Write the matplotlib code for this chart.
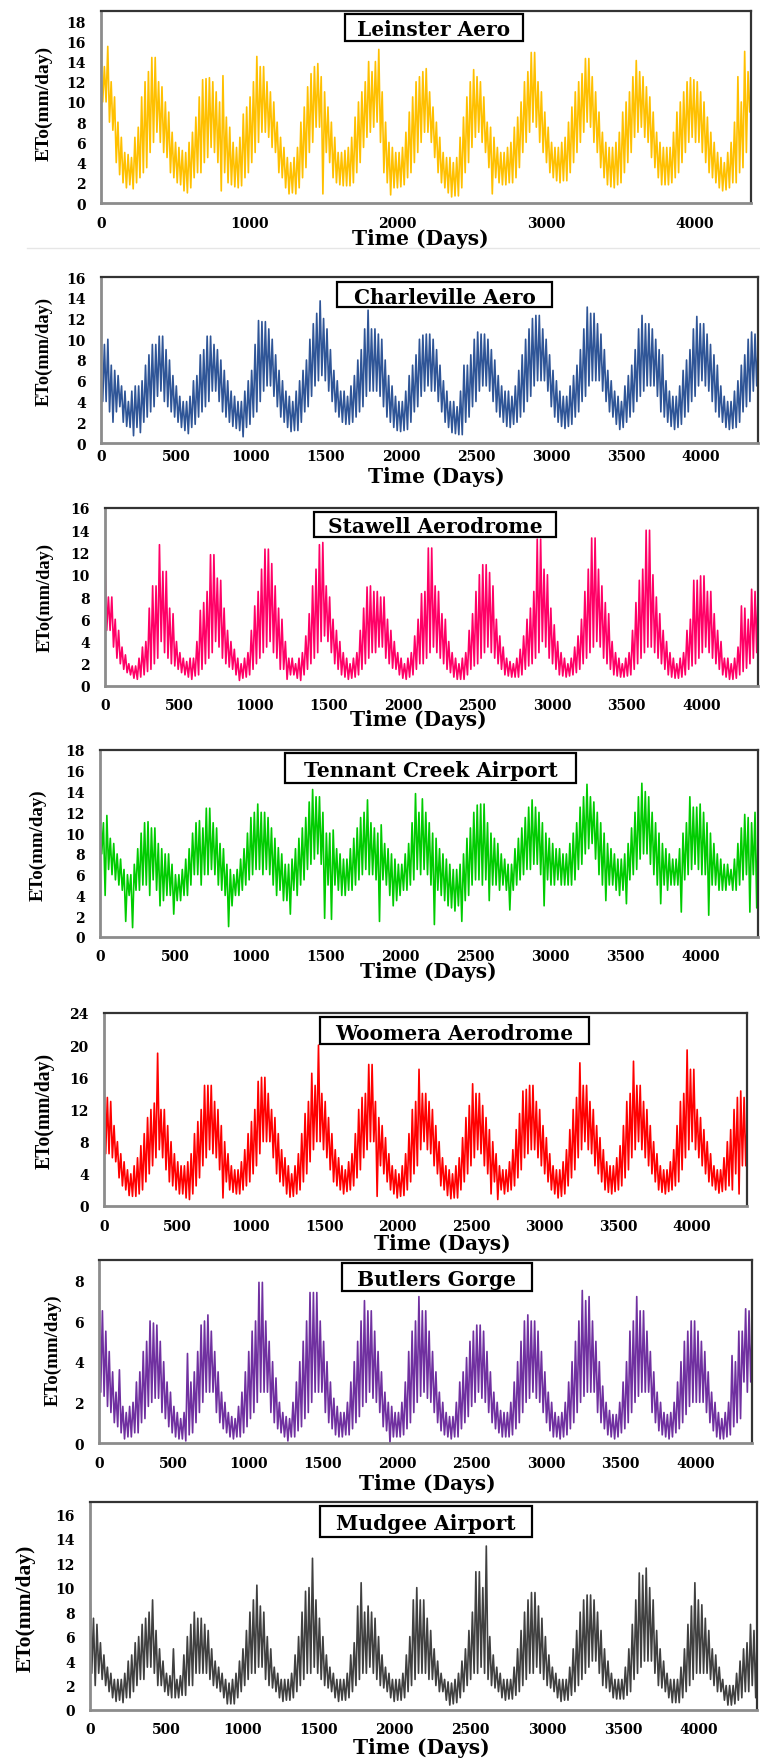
import numpy as np
import matplotlib.pyplot as plt
from matplotlib.patches import Rectangle

W, H = 760, 1765
STEPS_PER_YEAR = 16
TOTAL_DAYS = 4383

stations = ["Leinster Aero", "Charleville Aero", "Stawell Aerodrome",
            "Tennant Creek Airport", "Woomera Aerodrome", "Butlers Gorge",
            "Mudgee Airport"]
colors = ["#FFC000", "#2F5597", "#FF0066", "#00CC00", "#FF0000", "#7030A0", "#404040"]
ymax = [19, 16, 16, 18, 24, 9, 17]
ystep = [2, 2, 2, 2, 4, 2, 2]
xstep = [1000, 500, 500, 500, 500, 500, 500]

# ETo (mm/day): top and bottom of the daily band, 16 readings per year
leinster_hi = [
    12.7, 13.5, 15.5, 12, 10.5, 8, 6.5, 5, 4.8, 4.5, 6.5, 7.5, 10.5, 12, 13, 14.4,
    14.4, 12, 11.5, 10, 9, 7, 6, 5.5, 5.2, 5, 6, 7, 8.5, 10.5, 12.2, 12.3,
    12.4, 12, 11, 10, 12.6, 8.5, 7.5, 6, 5.5, 6.5, 8.8, 9.5, 10.5, 12, 14.5, 13.5,
    13.5, 12, 11, 10, 8, 6.5, 5.5, 4.5, 4, 4.5, 5.5, 8, 9.5, 11.5, 12.8, 13.5,
    13.8, 12.5, 11, 9.5, 8, 6.5, 5, 5, 5.2, 5.5, 6.5, 8.5, 10, 11, 12, 14,
    13, 14, 15.2, 11, 8, 6, 5.5, 5, 5, 5.5, 7, 9, 10.5, 12, 12.5, 13,
    13.3, 11, 9.5, 8, 6.5, 5, 4.5, 4.5, 4, 4.5, 6.5, 8.5, 10.5, 12, 13.2, 12.5,
    12, 10.5, 8, 7.5, 6.5, 5.5, 5, 5, 5.5, 6, 7.5, 8.5, 10, 12, 13, 14.9,
    14.9, 12, 11, 9, 7.5, 6, 5.5, 5.5, 6, 6.5, 8, 9.5, 11, 12, 12.8, 14.3,
    14.3, 12.5, 11, 9, 7, 6, 5.5, 5.5, 6, 7, 9, 10, 11, 12.5, 14.1, 13,
    12.5, 11.5, 10.5, 9, 7, 6, 5.5, 5.5, 5.5, 7, 9, 10, 11, 12, 12.4, 12.2,
    12, 11, 10, 8.5, 7, 6, 5, 4.5, 4, 5, 6, 8, 12.5, 10, 15, 13,
    11]
leinster_lo = [
    10, 10, 8, 7.2, 4, 2.8, 2, 1.5, 1.8, 1.4, 2, 2.5, 3, 3.5, 5, 6,
    7, 6, 5, 4.5, 3, 2.5, 2, 1.8, 1.2, 1, 1.5, 2.5, 3, 3, 4, 4.5,
    5.5, 5, 4, 1.2, 3, 2, 1.8, 1.6, 1.5, 1.7, 2.5, 3, 4, 5, 6, 7,
    7, 6.5, 5.5, 5, 3, 2.5, 1.5, 0.9, 1, 0.9, 1.5, 2.5, 3.5, 5, 6, 7.5,
    7.5, 0.9, 5, 4, 2.5, 2, 1.8, 1.7, 1.7, 1.7, 2, 3, 4, 5.5, 6.5, 7,
    7.5, 8, 6, 3, 2, 0.8, 1.5, 1.5, 1.6, 1.8, 2.5, 3, 4, 5, 6, 7,
    7, 6, 4.5, 3, 2, 1.5, 1, 0.6, 0.7, 0.7, 1.5, 3, 4, 5.5, 6.5, 7,
    6, 5, 3.5, 0.9, 2.5, 2, 1.8, 1.8, 2, 2, 2.5, 3.5, 5, 6, 7, 8,
    7.5, 6, 5, 4, 3, 2.5, 2.2, 2, 2.2, 2.2, 3, 4, 5, 6, 7, 8,
    7.5, 6, 5, 3.5, 2.5, 1.8, 1.6, 1.5, 1.8, 2, 3, 4, 5, 6.5, 7, 7.5,
    6.5, 6, 4.5, 3.5, 2.5, 1.8, 1.8, 1.8, 2, 2.5, 3, 4, 5, 6, 6.5, 6,
    6, 5, 4, 3, 2.5, 2, 1.5, 1.2, 1.3, 1.5, 2, 2, 3, 3.5, 5, 9,
    9.5]
charleville_hi = [
    6.5, 9.5, 10, 7.5, 7, 6.5, 5.5, 5, 4, 5, 5.5, 5.5, 6, 7.5, 8.5, 9.5,
    9.5, 10.3, 10.3, 9, 8, 6.5, 5.5, 4.5, 4, 4, 4.5, 6, 6.5, 8.5, 9, 10.3,
    10.3, 9.5, 9, 8, 7, 6, 5, 4.5, 4, 4, 5, 6, 7, 9.5, 11.8, 11.7,
    11.7, 11, 10, 8.5, 7, 6, 5, 4.5, 4, 5, 6, 7, 8, 10, 11.5, 12.5,
    13.7, 12, 11, 9, 7, 6, 5, 5, 4.5, 5.5, 6.5, 8, 9, 11, 12.8, 11,
    11, 10.5, 10, 8, 6.5, 5.5, 4.5, 4, 4, 5, 6.5, 7.5, 8.5, 10, 10.4, 10.5,
    10.5, 10, 9, 7.5, 6, 5, 4, 4, 3.5, 5, 7.5, 7.5, 8.5, 10, 10.7, 10.5,
    10.5, 10, 9, 8, 6.5, 5.5, 5, 5, 4.5, 5.5, 7, 8.5, 10, 11, 12, 12.3,
    12.3, 11, 10, 8.5, 7, 6, 5, 4.5, 4.5, 5.5, 6.5, 7.5, 9, 11, 13.1, 12.5,
    12.5, 11.5, 10.5, 9, 7, 6, 5, 4.5, 4, 5.5, 6.5, 7.5, 9, 11, 12.3, 11.5,
    11.5, 11, 10, 9, 8.5, 6, 5, 4.5, 4.5, 5.5, 7, 8, 9, 11, 12.2, 11.5,
    11.5, 10.5, 9.5, 8.5, 7.5, 5.5, 4.5, 4, 4, 5, 6, 7.5, 8.5, 10, 10.7, 10.5,
    10]
charleville_lo = [
    4, 4, 3, 2, 3, 3.5, 2, 1.6, 1.5, 0.7, 1.5, 1, 2, 2.5, 3, 3.5,
    4.5, 5, 4, 3.5, 3, 2.5, 2, 1.5, 1.2, 0.9, 1.5, 1.8, 2.5, 3, 3.5, 4,
    5, 5, 4, 3, 2.5, 2, 1.6, 1.4, 1.2, 0.6, 1.5, 1.8, 2.5, 3, 4, 5,
    5.5, 5.5, 4.5, 3.5, 2.5, 2, 1.5, 1.1, 1.2, 1.2, 2, 3, 3.5, 4.5, 5.5, 6,
    6.5, 6, 5, 4, 3, 2.5, 2, 1.8, 1.8, 2, 2.5, 3, 3.5, 4.5, 5, 5,
    5, 4.5, 3.5, 2.5, 2, 1.5, 1.2, 1.1, 1.2, 1.3, 2, 3, 3.5, 4.5, 5, 5.5,
    5, 5, 4, 3, 2, 1.5, 1, 0.9, 0.8, 0.8, 2, 2.5, 3.5, 4, 5, 5.5,
    5.5, 5, 4, 3, 2.5, 2, 1.6, 1.5, 1.8, 2, 2.5, 3, 4, 4.5, 5.5, 6,
    6, 6, 5, 3.5, 2.5, 2, 1.6, 1.4, 1.6, 1.8, 2.5, 3, 4, 4.5, 5.5, 6,
    6, 6, 5, 4, 3, 2.5, 1.8, 1.3, 1.5, 2, 2.5, 3, 4, 4.5, 5, 5.5,
    5.5, 5.5, 4.5, 3, 2.5, 2, 1.6, 1.3, 1.5, 1.8, 2.5, 3, 4, 4.5, 5.5, 6,
    5.5, 5, 4, 3, 2.5, 2, 1.5, 1.3, 1.4, 1.5, 2, 3, 3.5, 4, 5, 5.5,
    6]
stawell_hi = [
    11.2, 8, 8, 6, 5, 3.5, 2.8, 2, 1.8, 1.8, 2.5, 3.5, 4, 7, 9, 9,
    12.7, 10.3, 10.3, 7, 6.5, 4, 3, 2.5, 2.2, 2.5, 2.5, 4, 6.8, 7.5, 8.5, 11.8,
    11.8, 9.7, 9.5, 7, 5, 4, 3.3, 2.5, 2, 2.5, 3, 5, 7.2, 8.5, 10.5, 12.3,
    12.3, 11, 9, 7, 6, 4, 2.5, 2.5, 2, 2.5, 3, 4.5, 6.5, 9, 10.5, 12.7,
    12.9, 9, 8, 6, 5, 4, 3, 2.5, 2, 2.5, 3, 5, 7, 8.9, 9, 8.5,
    8.5, 8, 8, 6, 5, 4, 3, 2.5, 2, 2.5, 3, 4.5, 6, 8.3, 8.5, 12.4,
    12.4, 9, 8.5, 6.5, 6, 4, 3, 2.5, 2, 2.5, 3, 5, 6.5, 8.5, 10, 10.9,
    10.9, 10.2, 9, 6, 4.5, 3.5, 2.5, 2.2, 2, 2.5, 3.3, 4.5, 6, 7, 8.5, 13.2,
    13.2, 10.5, 10, 7, 5.5, 4, 3, 2.5, 2, 2.5, 3.5, 4.5, 6, 8.5, 10.5, 13.3,
    13.3, 10.5, 9, 7.5, 6.5, 4, 3, 2.5, 2, 2.5, 3, 5, 7.5, 9.5, 10.5, 14,
    14, 10, 8, 6.5, 5, 4, 3, 2.5, 2, 2.5, 3, 5, 6, 9.5, 9.5, 9.9,
    9.9, 8.5, 8.5, 6.5, 5, 4, 2.5, 2.5, 2, 2.5, 3.5, 7.2, 7, 6, 8.7, 8.5,
    10]
stawell_lo = [
    5, 5, 3.5, 2.5, 2, 1.5, 1.2, 1, 0.7, 0.6, 0.8, 1, 1.3, 1.5, 2, 2.5,
    4, 3, 2.5, 2, 1.8, 1.5, 1.2, 1, 0.8, 0.6, 0.9, 1, 1.5, 2, 2.5, 3,
    4, 3.5, 2.5, 2, 1.7, 1.5, 1, 0.5, 0.7, 0.8, 1, 1.5, 2, 2.5, 3, 3.5,
    4, 3, 2.5, 1.5, 1.5, 0.6, 1, 1, 0.7, 0.5, 1, 1.5, 2, 2.5, 3, 4,
    4.5, 4, 3, 2, 1.5, 1, 0.8, 0.6, 0.7, 0.8, 1, 1.5, 2, 2.5, 3, 3,
    3.5, 3.5, 2.5, 2, 1.6, 1.5, 1, 0.7, 0.6, 0.8, 1, 1.5, 2, 2, 2.5, 3,
    3.5, 3, 2.5, 2, 1.5, 1.2, 0.8, 0.6, 0.6, 0.6, 1, 1.5, 1.8, 2, 2.5, 3,
    3.5, 3, 2.5, 2, 1.5, 1, 0.9, 0.8, 0.8, 0.8, 1, 1.5, 1.8, 2, 2.5, 3,
    4, 3.5, 2.5, 2, 1.5, 1, 0.9, 0.8, 0.9, 1, 1.2, 1.5, 2, 2.5, 3, 3.5,
    4, 3.5, 2.5, 2, 1.5, 1, 0.9, 0.8, 0.8, 0.9, 1, 1.5, 2, 2.5, 3, 3.5,
    3.5, 3, 2.5, 2, 1.5, 1, 0.8, 0.7, 0.7, 0.8, 1, 1.5, 1.8, 2, 2.5, 3,
    3.5, 3, 2.5, 2, 1.5, 1, 0.8, 0.6, 0.6, 0.7, 1, 1.3, 1.6, 2, 2.5, 3,
    4]
tennant_hi = [
    11.5, 11, 11.7, 9.5, 9, 8, 7.5, 6.5, 6, 6, 7, 8.5, 10, 11, 11.1, 10.5,
    10.5, 9, 8.5, 8, 8, 7, 6, 6, 6.5, 7.5, 8.5, 10, 11, 11.2, 10.5, 12.4,
    12.4, 11, 10.5, 9, 8.5, 7, 6.5, 6, 6.5, 7.5, 8.5, 10, 11.5, 12, 12.8, 12,
    12, 11.5, 10.5, 9.5, 8.6, 8, 7, 7, 7.5, 8.5, 9.5, 10.5, 11.5, 13, 14.2, 13.5,
    13.5, 12, 10, 10, 10.3, 8.5, 8, 7.5, 7.5, 8.5, 9.5, 10.5, 11.5, 12, 13.2, 11,
    10.5, 10, 10.8, 9, 8.5, 8, 7.5, 7, 7, 8, 9, 11, 13.8, 12, 13.3, 12,
    11, 10, 9.5, 8.5, 8, 7.5, 7, 6.5, 6.5, 7, 8, 9.5, 10.5, 12, 12.7, 12.8,
    12.8, 11, 10, 9.5, 9, 8, 7.5, 7, 7, 8.5, 9.5, 10.5, 11.5, 12.5, 13.2, 12.5,
    12, 11, 10, 9.5, 9, 8.5, 8.5, 8, 8, 9, 10, 11, 12.5, 13.5, 14.7, 13.5,
    13, 12, 11, 10, 9, 8.5, 8, 7.5, 7.5, 8, 9, 10.5, 12, 13.5, 14.8, 14,
    13.5, 12, 11, 10, 9, 8.5, 8, 7.5, 7.5, 8.5, 10, 11, 13.5, 12.5, 12.5, 12.8,
    12, 11, 10, 9, 8, 7.5, 7, 7, 6.5, 7.5, 9, 10.5, 11.8, 11.5, 11, 12,
    12]
tennant_lo = [
    8, 4, 6.5, 6, 5.5, 5, 4.5, 1.5, 4, 0.9, 4.5, 4.5, 5, 5, 4, 5.5,
    4.5, 3, 3.5, 4, 4, 2.2, 3.5, 3.5, 4, 4, 5, 6, 6, 5, 6, 6,
    6.5, 6, 5, 4.5, 4, 1, 3, 4, 4, 4.5, 5, 5.5, 6, 6.5, 6.5, 6,
    6.5, 6, 5, 4, 4.5, 3.5, 3.5, 2.2, 4.5, 4, 5, 5.5, 6.5, 7, 7.5, 8,
    7, 1.8, 5, 1.7, 5, 4.5, 4, 4, 4.5, 4.5, 5, 5.5, 6, 6.5, 6, 6,
    5.5, 1.5, 5.5, 5, 4, 3, 3.5, 4, 4.5, 4.5, 5, 5.5, 6.5, 6, 6.5, 6,
    5, 1.2, 4.5, 4, 3.5, 3, 2.8, 2.5, 3, 1.5, 3.5, 4, 5, 5.5, 5.5, 5,
    5.5, 3.5, 5, 5, 4.5, 5, 4.5, 2.6, 4.5, 5, 5.5, 6, 6.5, 6.5, 7, 7,
    6, 3, 5.5, 5, 5, 5.5, 5, 5, 5, 5, 5.5, 6.5, 7, 8, 8.5, 9,
    7.5, 6, 5, 3.5, 5, 5, 4.5, 4, 4.5, 3.2, 5.5, 6, 6.5, 7.5, 8, 8,
    7, 6, 5, 3.2, 5, 4.5, 5, 5, 5, 2.4, 5.5, 6, 6.5, 7, 6.5, 6,
    6, 2.1, 5, 5, 4.5, 4.5, 4.5, 5, 4.5, 4.5, 5, 5.5, 6, 2.4, 6, 2.8,
    8.5]
woomera_hi = [
    15.7, 13.5, 13, 10, 8, 6.5, 5.5, 4.5, 4, 5, 6, 7.5, 9, 11, 12, 12.8,
    19, 12, 12, 10, 8, 6.5, 5.5, 5, 5, 5.5, 6.5, 9, 10.5, 12, 15, 15,
    15, 13, 12, 10, 8, 6.5, 5, 4.5, 4.5, 5.5, 7, 9, 10.5, 12, 15.5, 16,
    16, 14, 12, 11, 9, 7, 6, 5, 4, 5, 6.5, 9, 11.5, 13, 16.5, 15,
    20, 14, 13, 11, 9, 7, 6, 5, 4.5, 5.5, 6.5, 9, 12, 13.5, 14, 17.6,
    17.6, 13, 11, 10, 8.5, 6.5, 5, 4.5, 4, 5, 6.5, 9, 12, 13, 17, 14,
    14, 13, 12, 10, 8, 6, 5, 4.5, 4, 5, 6, 8.5, 11, 12.5, 15.2, 14,
    14, 12.5, 11, 9.5, 8, 6.5, 5, 4.5, 4.5, 5.5, 7, 9.5, 11.5, 14.3, 14.5, 15,
    15, 13, 12, 10, 8.5, 6.5, 5, 4.5, 4.5, 5.5, 7, 9.5, 12, 13.5, 17.8, 15,
    15, 13, 12, 10, 8.5, 7, 5.5, 5, 5, 6, 7.5, 10, 13, 14, 18, 15,
    15, 13, 12, 10, 8, 6.5, 5, 4.5, 4.5, 5.5, 7, 10, 13, 14, 19.4, 17,
    17, 12, 11, 9.5, 8, 6.5, 5, 4.5, 4.5, 6, 8, 9.5, 12, 13.5, 14.3, 13.5,
    11.5]
woomera_lo = [
    6.5, 6.5, 6, 5.5, 3.5, 2.5, 2, 1.3, 1.2, 1.2, 1.5, 2, 3, 4, 5, 6,
    7, 6, 4.5, 3, 2.5, 2, 1.5, 1.5, 1, 0.8, 1.5, 2.5, 3.5, 5, 6, 7,
    6.5, 6, 4.5, 1, 3, 2, 1.7, 1.5, 1.5, 2, 2.5, 3, 4, 5, 6.5, 8,
    8, 8, 6, 4, 3, 2.5, 1.5, 1.1, 1.2, 1.5, 2, 3, 4, 5.5, 7, 8,
    8, 7, 6, 4.5, 3, 2.5, 2, 1.5, 1.8, 2, 2.5, 3.5, 4.5, 6, 7, 8,
    8, 1.2, 5, 4, 3, 2, 1.5, 1, 1.2, 1.3, 2, 3, 4, 5, 7, 8,
    7, 6.5, 5, 4, 2.5, 2, 1.3, 0.9, 1, 1, 2, 3, 4, 5, 6, 7,
    6.5, 5, 4, 1.5, 3, 0.8, 2, 1.5, 1.8, 2, 2.5, 3.5, 4.5, 6, 6.5, 7,
    7, 6, 5, 4, 3, 2, 1.5, 1, 1.2, 1.5, 2.5, 3.5, 4.5, 6, 7, 8,
    7, 6.5, 5, 4, 3, 2, 1.7, 1.5, 1.8, 2, 2.5, 3.5, 4.5, 6, 7, 8,
    7, 6, 5, 4, 3, 2, 1.7, 1.5, 1.8, 2, 2.5, 3, 4.5, 6, 7, 8,
    7, 6, 5, 4, 3, 2.5, 2, 1.6, 1.8, 2, 2.5, 2, 4, 1.5, 5, 5,
    8]
butlers_hi = [
    7.2, 6.5, 5.5, 4.5, 3.5, 2.5, 3.6, 1.8, 1.5, 1.8, 2, 3, 3.5, 4.5, 5, 6,
    5.9, 5.8, 5, 4, 3, 2.5, 1.8, 1.5, 1.2, 1.5, 4.4, 3, 3.5, 4.5, 5.8, 6,
    6.3, 5.5, 4.5, 3.5, 2.5, 2, 1.5, 1.3, 1.2, 1.8, 2.5, 3.5, 4.5, 5.5, 6, 7.9,
    7.9, 6, 5, 4, 3.2, 2, 1.5, 1.3, 1.2, 2, 3, 4, 5, 6, 7.4, 7.4,
    7.4, 6, 5, 4, 3, 2.2, 1.8, 1.5, 1.5, 2, 3, 4, 5, 6, 7, 6.5,
    6.5, 5.5, 4.5, 3.5, 2.5, 2, 1.8, 1.5, 1.5, 2, 3, 4.5, 5.5, 6, 7.2, 6.5,
    6.5, 5.5, 4.5, 3.5, 2.5, 2, 1.5, 1.3, 1.3, 2, 3, 3.5, 4.2, 5, 5.5, 5.8,
    5.8, 5.5, 4.5, 3.5, 2.5, 2, 1.6, 1.5, 1.5, 2, 3, 4, 5, 6, 6.3, 6,
    6, 5.5, 4.5, 3.5, 2.5, 2, 1.5, 1.3, 1.5, 2, 3, 4, 5, 6, 7.5, 7,
    7.2, 6, 5, 4, 2.8, 2, 1.6, 1.4, 1.4, 2, 3, 4, 5.5, 6, 7.2, 6.5,
    6.5, 5.5, 4.5, 3.5, 2.5, 2, 1.5, 1.4, 1.5, 2, 3, 4, 5, 5.5, 6, 6,
    5.5, 5, 4.5, 3.5, 2.5, 2, 1.5, 1.2, 1.5, 2, 4.3, 4, 5.5, 5.5, 6.6, 6.5,
    6]
butlers_lo = [
    2.5, 2.3, 1.8, 1.5, 1, 0.8, 0.5, 0.2, 0.3, 0.3, 0.5, 0.5, 1, 1.2, 1.8, 2,
    2.2, 2.2, 1.5, 1.2, 0.8, 0.5, 0.3, 0.2, 0.2, 0.1, 0.4, 0.5, 1, 1.5, 2, 2.5,
    2.5, 2.5, 1.5, 1, 0.7, 0.5, 0.3, 0.2, 0.3, 0.3, 0.5, 0.8, 1.2, 1.5, 2, 2.5,
    2.5, 2.5, 1.5, 1, 0.7, 0.5, 0.3, 0.1, 0.3, 0.3, 0.6, 0.8, 1.2, 1.5, 2, 2.5,
    2.5, 2.5, 1.5, 1, 0.7, 0.4, 0.3, 0.3, 0.4, 0.4, 0.7, 1, 1.3, 1.8, 2, 2.5,
    2.2, 2, 1.5, 0.8, 0.6, 0, 0.3, 0.3, 0.3, 0.4, 0.7, 1, 1.5, 2, 2.3, 2.5,
    2.2, 2, 1.5, 1, 0.6, 0.4, 0.3, 0.2, 0.3, 0.3, 0.7, 1, 1.3, 1.8, 2, 2.5,
    2.2, 2, 1.5, 1, 0.7, 0.5, 0.3, 0.3, 0.3, 0.4, 0.7, 1, 1.5, 2, 2.2, 2.5,
    2.2, 2, 1.5, 1, 0.6, 0.3, 0.3, 0.2, 0.3, 0.4, 0.7, 1, 1.5, 2, 2.3, 2.5,
    2.5, 2.5, 1.5, 1, 0.7, 0.4, 0.3, 0.2, 0.3, 0.5, 0.7, 1, 1.5, 2, 2.3, 2.5,
    2.5, 2.5, 1.5, 1, 0.6, 0.4, 0.3, 0.2, 0.3, 0.5, 0.7, 1, 1.4, 1.8, 2, 2,
    2, 2, 1.5, 1, 0.6, 0.3, 0.2, 0.2, 0.3, 0.4, 0.8, 1, 1.2, 3, 2.5, 3,
    3]
mudgee_hi = [
    9.8, 7.5, 7, 5.5, 4.5, 3.5, 3, 2.5, 2.5, 2.5, 3, 4, 4.5, 5.5, 6, 7,
    7.5, 8, 9, 6.5, 5, 4, 3, 2.8, 5, 2.5, 2.8, 4.5, 6, 7, 8, 7.5,
    7.5, 7, 6.5, 5, 4, 3.5, 3, 2.5, 2.2, 2.5, 3, 4, 5, 6.5, 8, 9,
    10.2, 8.5, 8, 6, 5, 3.5, 3, 2.5, 2.5, 2.5, 3, 4.5, 6, 8, 9.7, 10,
    12.4, 9, 7.5, 6, 4.5, 3.5, 3, 2.5, 2.5, 2.5, 3, 4.5, 5.5, 8.5, 10.4, 8,
    8.5, 8, 7.5, 6, 4.5, 3.5, 3, 2.5, 2.5, 2.5, 3, 4.5, 6, 9, 10, 9,
    9, 7.5, 6.5, 5, 4, 3, 2.5, 2.3, 2.2, 2.5, 3, 4, 5, 6.5, 8, 11.3,
    11.3, 10, 13.4, 6, 4.5, 3.5, 3, 2.5, 2.5, 2.5, 3.5, 5, 6.5, 8, 9, 9.6,
    9.6, 8.5, 7.5, 6, 4.5, 3.5, 3, 2.5, 2.5, 2.5, 3.5, 5, 6.5, 8, 9, 9.4,
    9.4, 9, 8, 6.5, 5, 4, 3, 2.5, 2.5, 2.5, 3.5, 5, 7, 9, 11.2, 11,
    11.6, 10, 9, 6.5, 5, 4, 3, 2.5, 2.5, 2.5, 3.5, 5, 7, 8.5, 10.4, 9,
    8.6, 7.5, 6.5, 5, 4.5, 3.5, 2.5, 2, 2, 2, 3, 4, 5, 5.5, 7, 6.5,
    7]
mudgee_lo = [
    3, 2, 3, 2.5, 2, 1.5, 1, 0.7, 0.8, 0.6, 1, 1, 1.5, 2, 2.5, 2.5,
    3.5, 3.5, 3, 2, 2, 1.5, 1.2, 1, 1, 1, 1.2, 1.2, 2, 2, 3, 3,
    3, 3, 2.5, 2, 1.8, 1.5, 1, 0.5, 0.5, 0.5, 1, 1.5, 2, 2.5, 3, 3,
    3.5, 3.5, 2.5, 2, 1.8, 1.5, 1, 0.7, 0.8, 0.8, 1, 1.5, 2, 2.5, 3, 3,
    3.5, 3, 2.5, 2, 1.8, 1.5, 1, 0.7, 0.8, 0.8, 1, 1.5, 2, 2.5, 3, 3,
    3.5, 3, 2.5, 2, 1.8, 1.5, 1, 0.7, 0.8, 0.8, 1, 1.5, 2, 2.5, 3, 3,
    3, 2.5, 2.5, 2, 1.5, 1.5, 0.8, 0.4, 0.5, 0.6, 1, 1.5, 2, 2.5, 3, 3,
    3.5, 3, 2.5, 2, 1.8, 1.5, 1, 0.8, 0.9, 0.9, 1.2, 1.5, 2, 2.5, 3, 3,
    3.5, 3, 2.5, 2, 1.8, 1.5, 1, 0.7, 0.8, 0.8, 1.2, 1.5, 2, 2.5, 3, 3.5,
    4, 4, 3, 2, 1.8, 1.5, 1, 0.9, 0.9, 0.9, 1.2, 1.5, 2.5, 3, 3.5, 4,
    4, 4, 3, 2, 1.8, 1.5, 1, 0.6, 0.6, 0.6, 1, 1.5, 2, 2.5, 3, 3,
    3, 3, 2.5, 2, 1.5, 1.5, 0.8, 0.4, 0.4, 0.5, 0.8, 1, 1.5, 1.5, 2, 1,
    3]
series_hi = [leinster_hi, charleville_hi, stawell_hi, tennant_hi, woomera_hi,
             butlers_hi, mudgee_hi]
series_lo = [leinster_lo, charleville_lo, stawell_lo, tennant_lo, woomera_lo,
             butlers_lo, mudgee_lo]

# layout in reference pixels
axes_px = [(101, 751, 12, 204), (101, 758, 278, 444), (105, 758, 509, 687),
           (100, 758, 751, 938), (104, 747, 1014, 1207), (99, 752, 1261, 1444),
           (90, 757, 1503, 1711)]
title_px = [(345, 523, 15, 42), (337, 552, 283, 308), (314, 556, 513, 538),
            (285, 576, 754, 784), (320, 589, 1018, 1045), (342, 532, 1264, 1292),
            (320, 532, 1507, 1538)]
xlabel_px = [(420, 239), (436, 477), (418, 720), (428, 972), (442, 1244),
             (427, 1484), (421, 1748)]
ylabel_px = [(44, 103), (44, 352), (45, 598), (38, 845), (45, 1111),
             (53, 1350), (26, 1608)]
ylabel_size = [14, 13.2, 13.2, 13.6, 14.1, 13.6, 15.5]
xtick_pad = [9, 4, 9, 9, 9.5, 9, 9]

serif_wide = "DejaVu Serif"
serif = "Liberation Serif"

fig = plt.figure(figsize=(W / 100, H / 100), dpi=100)

for i in range(7):
    l, r, t, b = axes_px[i]
    ax = fig.add_axes([l / W, 1 - b / H, (r - l) / W, (b - t) / H])
    hi = np.array(series_hi[i], dtype=float)
    lo = np.array(series_lo[i], dtype=float)
    step = TOTAL_DAYS / (12 * STEPS_PER_YEAR)
    d = np.arange(len(hi)) * step
    days = np.column_stack([d, d + step / 2]).ravel()
    vals = np.column_stack([hi, lo]).ravel()
    ax.plot(days, vals, color=colors[i], lw=1.2)
    ax.set_xlim(0, 4380)
    ax.set_ylim(0, ymax[i])
    ax.set_xticks(np.arange(0, 4001, xstep[i]))
    ax.set_yticks(np.arange(0, ymax[i] + 0.1, ystep[i]))
    ax.tick_params(length=0, labelsize=10)
    ax.tick_params(axis='y', pad=11)
    ax.tick_params(axis='x', pad=xtick_pad[i])
    for lab in ax.get_xticklabels() + ax.get_yticklabels():
        lab.set_fontfamily(serif_wide)
        lab.set_fontweight('bold')
    for side in ['top', 'right']:
        ax.spines[side].set_color('#333333')
        ax.spines[side].set_linewidth(1.6)
    for side in ['left', 'bottom']:
        ax.spines[side].set_color('#8c8c8c')
        ax.spines[side].set_linewidth(2)

    bl, br, bt, bb = title_px[i]
    fig.add_artist(Rectangle((bl / W, 1 - bb / H), (br - bl) / W, (bb - bt) / H,
                             transform=fig.transFigure, fc='white', ec='black',
                             lw=1.6, zorder=5))
    fig.text((bl + br) / 2 / W, 1 - (bt + bb) / 2 / H, stations[i],
             ha='center', va='center_baseline', fontfamily=serif_wide,
             fontweight='bold', fontsize=14.5, zorder=6)

    xx, xy = xlabel_px[i]
    fig.text(xx / W, 1 - xy / H, "Time (Days)", ha='center', va='center',
             fontfamily=serif_wide, fontweight='bold', fontsize=14.5)
    yx, yy = ylabel_px[i]
    fig.text(yx / W, 1 - yy / H, "ETo(mm/day)", ha='center', va='center',
             rotation=90, fontfamily=serif, fontweight='bold',
             fontsize=ylabel_size[i])

# faint separator under the first panel
fig.add_artist(plt.Line2D([27 / W, 1], [1 - 249 / H, 1 - 249 / H],
                          transform=fig.transFigure, color='#e6e6e6', lw=1))

fig.savefig("out.png", dpi=100)
